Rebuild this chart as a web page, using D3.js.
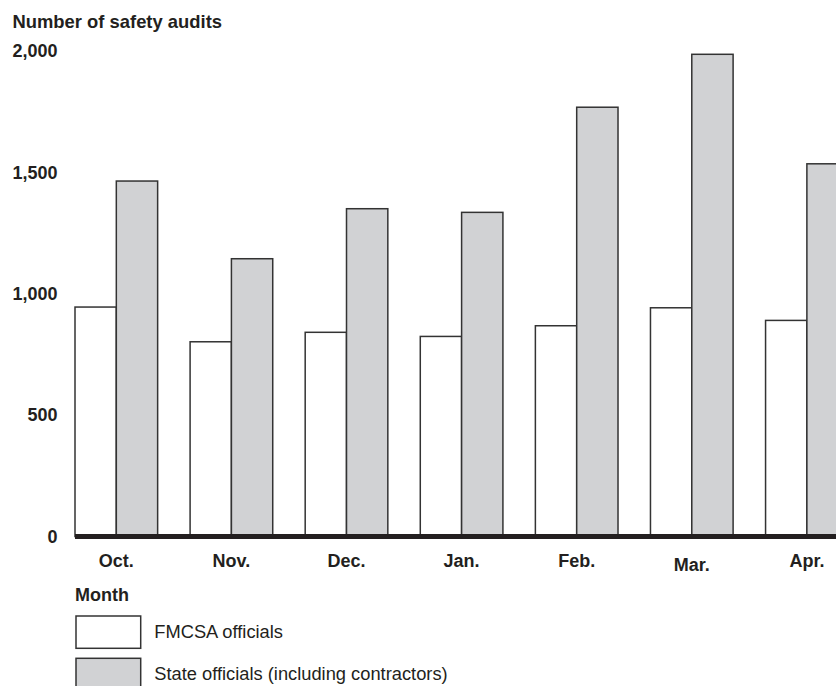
<!DOCTYPE html>
<html>
<head>
<meta charset="utf-8">
<script src="https://cdn.jsdelivr.net/npm/d3@7"></script>
<style>
  body { margin: 0; background: #fff; }
  svg { display: block; font-family: "Liberation Sans", Arial, Helvetica, sans-serif; }
  .axis text { fill: #231f20; font-weight: bold; font-size: 18px; }
  .hint { fill: #231f20; font-weight: bold; font-size: 18px; }
  .title { font-size: 18.4px; }
  .legend text { fill: #231f20; font-size: 18.3px; }
</style>
</head>
<body>
<div id="chart"></div>
<script>
// chart values
let months = ["Oct.", "Nov.", "Dec.", "Jan.", "Feb.", "Mar.", "Apr."];
let fmcsa = [945, 802, 841, 824, 868, 942, 890];
let state = [1464, 1144, 1350, 1335, 1768, 1986, 1535];
let seriesNames = ["FMCSA officials", "State officials (including contractors)"];
let yTicks = [0, 500, 1000, 1500, 2000];

function drawChart(w, h) {

    let rows = months.map(function (m, i) {
        return {month: m, values: [fmcsa[i], state[i]]};
    });

    let colors = ["#ffffff", "#d1d2d4"];

    let x0 = d3.scaleBand()
        .domain(months)
        .range([75, 848.2])
        .paddingInner(0.282)
        .paddingOuter(0);

    let x1 = d3.scaleBand()
        .domain([0, 1])
        .range([0, x0.bandwidth()]);

    let yScale = d3.scaleLinear()
        .domain([0, 2000])
        .range([536.5, 50.9]);

    let svg = d3.select("#chart")
        .append("svg")
        .attr("width", w)
        .attr("height", h);

    svg.append("text")
        .attr("class", "hint title")
        .attr("x", 12.5)
        .attr("y", 28.3)
        .text("Number of safety audits");

    let yAxis = d3.axisLeft(yScale)
        .tickValues(yTicks)
        .tickSize(0)
        .tickPadding(0)
        .tickFormat(d3.format(","));

    svg.append("g")
        .attr("class", "axis")
        .attr("transform", "translate(57.5, 0)")
        .call(yAxis)
        .call(function (g) { g.select(".domain").remove(); });

    let groups = svg.selectAll("g.month")
        .data(rows)
        .enter()
        .append("g")
        .attr("class", "month")
        .attr("transform", function (d) {
            return "translate(" + x0(d.month) + ", 0)";
        });

    groups.selectAll("rect")
        .data(function (d) { return d.values; })
        .enter()
        .append("rect")
        .attr("x", function (d, i) { return x1(i); })
        .attr("y", function (d) { return yScale(d); })
        .attr("width", x1.bandwidth())
        .attr("height", function (d) { return yScale(0) - yScale(d); })
        .attr("fill", function (d, i) { return colors[i]; })
        .attr("stroke", "#333")
        .attr("stroke-width", 1.5);

    // thick baseline
    svg.append("line")
        .attr("x1", 75)
        .attr("x2", w)
        .attr("y1", yScale(0))
        .attr("y2", yScale(0))
        .attr("stroke", "#231f20")
        .attr("stroke-width", 5);

    let xAxis = d3.axisBottom(x0)
        .tickSize(0)
        .tickPadding(17.4);

    svg.append("g")
        .attr("class", "axis")
        .attr("transform", "translate(0, " + yScale(0) + ")")
        .call(xAxis)
        .call(function (g) { g.select(".domain").remove(); })
        .selectAll("text")
        .attr("y", function (d) { return d === "Mar." ? 21.4 : 17.4; });

    svg.append("text")
        .attr("class", "hint")
        .attr("x", 75)
        .attr("y", 600.7)
        .text("Month");

    let legend = svg.append("g")
        .attr("class", "legend");

    let items = legend.selectAll("g")
        .data(seriesNames)
        .enter()
        .append("g")
        .attr("transform", function (d, i) {
            return "translate(76, " + (616 + i * 42.3) + ")";
        });

    items.append("rect")
        .attr("width", 64.7)
        .attr("height", 32.3)
        .attr("fill", function (d, i) { return colors[i]; })
        .attr("stroke", "#333")
        .attr("stroke-width", 1.5);

    items.append("text")
        .attr("x", 78.3)
        .attr("y", 22)
        .text(function (d) { return d; });
}

drawChart(836, 686);
</script>
</body>
</html>
